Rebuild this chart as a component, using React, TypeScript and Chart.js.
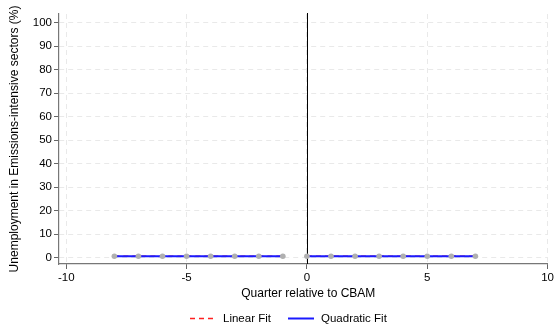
import React, { useEffect, useRef } from "react";
import { Chart, registerables } from "chart.js";

Chart.register(...registerables);

// ---- data ----
const preQuarters = [-8, -7, -6, -5, -4, -3, -2, -1];
const postQuarters = [0, 1, 2, 3, 4, 5, 6, 7];
const preValues = [0.6, 0.6, 0.6, 0.6, 0.6, 0.6, 0.6, 0.6];
const postValues = [0.6, 0.6, 0.6, 0.6, 0.6, 0.6, 0.6, 0.6];
const preLinearFit = [0.6, 0.6, 0.6, 0.6, 0.6, 0.6, 0.6, 0.6];
const postLinearFit = [0.6, 0.6, 0.6, 0.6, 0.6, 0.6, 0.6, 0.6];
const preQuadraticFit = [0.6, 0.6, 0.6, 0.6, 0.6, 0.6, 0.6, 0.6];
const postQuadraticFit = [0.6, 0.6, 0.6, 0.6, 0.6, 0.6, 0.6, 0.6];
const xTickValues = [-10, -5, 0, 5, 10];
const yTickValues = [0, 10, 20, 30, 40, 50, 60, 70, 80, 90, 100];
const xTitle = "Quarter relative to CBAM";
const yTitle = "Unemployment in Emissions-intensive sectors (%)";
const legendLabels = ["Linear Fit", "Quadratic Fit"];

const FONT = "'Liberation Sans', Arial, Helvetica, sans-serif";
const pts = (xs: number[], ys: number[]) => xs.map((x, i) => ({ x, y: ys[i] }));

const overlayPlugin = {
  id: "overlay",
  beforeDatasetsDraw(chart: any) {
    const { ctx, chartArea, scales } = chart;
    const x0 = scales.x.getPixelForValue(0);
    ctx.save();
    ctx.strokeStyle = "#000";
    ctx.lineWidth = 1;
    ctx.beginPath();
    ctx.moveTo(Math.round(x0) + 0.5, chartArea.top - 1);
    ctx.lineTo(Math.round(x0) + 0.5, chartArea.bottom);
    ctx.stroke();
    ctx.restore();
  },
  afterDraw(chart: any) {
    const { ctx, chartArea } = chart;
    ctx.save();
    ctx.fillStyle = "#000";
    ctx.font = `12px ${FONT}`;
    // x title
    ctx.textAlign = "center";
    ctx.textBaseline = "middle";
    ctx.fillText(xTitle, (chartArea.left + chartArea.right) / 2 + 5, 294);
    // y title
    ctx.save();
    ctx.translate(15, (chartArea.top + chartArea.bottom) / 2);
    ctx.rotate(-Math.PI / 2);
    ctx.fillText(yTitle, 0, 0);
    ctx.restore();
    // legend
    ctx.font = `11.5px ${FONT}`;
    const ly = 318.5;
    ctx.lineWidth = 1.5;
    ctx.strokeStyle = "#ff2020";
    ctx.setLineDash([5, 4]);
    ctx.beginPath();
    ctx.moveTo(190, ly);
    ctx.lineTo(217, ly);
    ctx.stroke();
    ctx.setLineDash([]);
    ctx.strokeStyle = "#1a1aff";
    ctx.lineWidth = 2;
    ctx.beginPath();
    ctx.moveTo(288, ly);
    ctx.lineTo(314, ly);
    ctx.stroke();
    ctx.textAlign = "left";
    ctx.fillText(legendLabels[0], 223, ly);
    ctx.fillText(legendLabels[1], 321, ly);
    ctx.restore();
  },
};

export default function App() {
  const ref = useRef<HTMLCanvasElement | null>(null);
  useEffect(() => {
    if (!ref.current) return;
    const chart = new Chart(ref.current, {
      type: "scatter",
      data: {
        datasets: [
          {
            label: "pre",
            data: pts(preQuarters, preValues),
            showLine: false,
            pointRadius: 2.8,
            pointBackgroundColor: "#b0b0b0",
            pointBorderWidth: 0,
            order: 0,
          },
          {
            label: "post",
            data: pts(postQuarters, postValues),
            showLine: false,
            pointRadius: 2.8,
            pointBackgroundColor: "#b0b0b0",
            pointBorderWidth: 0,
            order: 0,
          },
          {
            label: legendLabels[0],
            data: pts(preQuarters, preLinearFit),
            showLine: true,
            borderColor: "#ff2020",
            borderWidth: 1.5,
            borderDash: [5, 4],
            pointRadius: 0,
            order: 2,
          },
          {
            label: legendLabels[0] + " post",
            data: pts(postQuarters, postLinearFit),
            showLine: true,
            borderColor: "#ff2020",
            borderWidth: 1.5,
            borderDash: [5, 4],
            pointRadius: 0,
            order: 2,
          },
          {
            label: legendLabels[1],
            data: pts(preQuarters, preQuadraticFit),
            showLine: true,
            borderColor: "#1a1aff",
            borderWidth: 2,
            pointRadius: 0,
            order: 1,
          },
          {
            label: legendLabels[1] + " post",
            data: pts(postQuarters, postQuadraticFit),
            showLine: true,
            borderColor: "#1a1aff",
            borderWidth: 2,
            pointRadius: 0,
            order: 1,
          },
        ],
      },
      options: {
        animation: false,
        responsive: false,
        devicePixelRatio: 1,
        layout: { padding: { left: 0, right: 6.7, top: 14, bottom: 29 } },
        plugins: { legend: { display: false }, tooltip: { enabled: false } },
        scales: {
          x: {
            type: "linear",
            min: -10.3,
            max: 10,
            afterBuildTicks: (s: any) => {
              s.ticks = xTickValues.map((v) => ({ value: v }));
            },
            afterFit: (s: any) => {
              s.height = 36;
            },
            grid: {
              color: "#e9e9e9",
              lineWidth: 1,
              tickLength: 5,
              tickColor: "#666",
              tickBorderDash: [],
            },
            border: { display: true, color: "#777", width: 1.2, dash: [5, 4] },
            ticks: {
              color: "#000",
              font: { size: 11.5, family: FONT },
              padding: 2,
              maxRotation: 0,
              autoSkip: false,
            },
            title: { display: false },
          },
          y: {
            type: "linear",
            min: -2.7,
            max: 103.7,
            afterBuildTicks: (s: any) => {
              s.ticks = yTickValues.map((v) => ({ value: v }));
            },
            afterFit: (s: any) => {
              s.width = 59;
            },
            grid: {
              color: "#e9e9e9",
              lineWidth: 1,
              tickLength: 5,
              tickColor: "#666",
              tickBorderDash: [],
            },
            border: { display: true, color: "#777", width: 1.2, dash: [5, 4] },
            ticks: {
              color: "#000",
              font: { size: 11.5, family: FONT },
              padding: 2,
              autoSkip: false,
            },
            title: { display: false },
          },
        },
      },
      plugins: [overlayPlugin],
    } as any);
    return () => chart.destroy();
  }, []);
  return (
    <div style={{ position: "fixed", left: 0, top: 0, width: 556, height: 329, background: "#fff" }}>
      <canvas ref={ref} width={556} height={329} />
    </div>
  );
}
